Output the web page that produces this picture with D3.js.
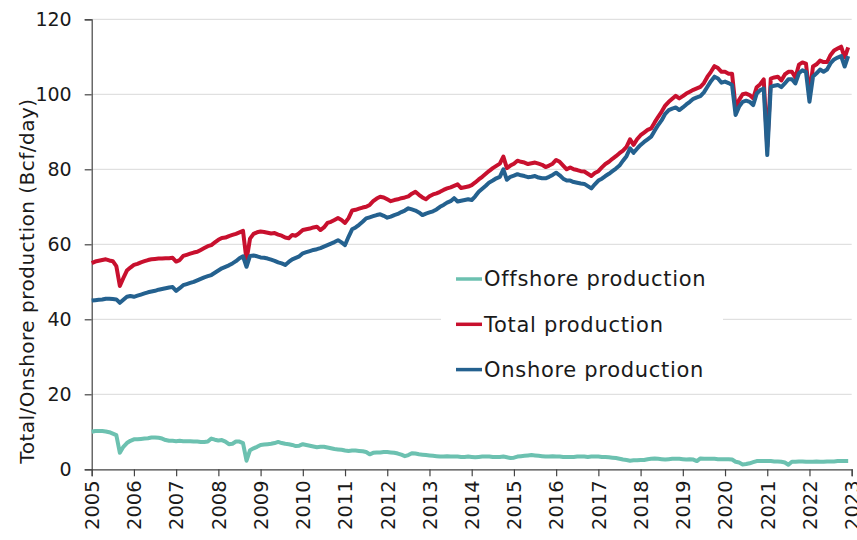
<!DOCTYPE html>
<html>
<head>
<meta charset="utf-8">
<title>Natural gas production</title>
<script src="https://cdnjs.cloudflare.com/ajax/libs/d3/7.8.5/d3.min.js"></script>
<style>
  body { margin: 0; background: #fff; }
  text { font-family: "DejaVu Sans", sans-serif; fill: #1a1a1a; }
</style>
</head>
<body>
<svg id="chart" width="857" height="540"></svg>
<script>
// monthly values, one row per year (Jan..Dec)
var years = [2005,2006,2007,2008,2009,2010,2011,2012,2013,2014,2015,2016,2017,2018,2019,2020,2021,2022];

var total = [
  [55.0,55.4,55.6,55.8,56.0,55.7,55.5,54.2,48.9,51.0,53.0,53.8],
  [54.5,54.8,55.2,55.5,55.8,56.0,56.1,56.2,56.2,56.3,56.3,56.4],
  [55.4,55.8,56.9,57.2,57.5,57.8,58.0,58.5,59.0,59.5,59.8,60.5],
  [61.2,61.7,61.8,62.2,62.5,62.8,63.2,63.6,55.8,61.5,62.8,63.2],
  [63.4,63.3,63.1,62.9,63.0,62.6,62.3,61.8,61.6,62.5,62.3,63.0],
  [63.8,64.0,64.2,64.5,64.7,63.8,64.5,65.7,66.0,66.5,67.0,66.5],
  [65.7,67.0,69.0,69.2,69.5,69.8,70.0,70.5,71.5,72.2,72.7,72.5],
  [72.0,71.5,71.8,72.0,72.3,72.5,72.8,73.5,74.0,73.2,72.5,72.0],
  [72.8,73.3,73.6,74.0,74.5,74.9,75.2,75.6,76.0,75.0,75.2,75.4],
  [75.8,76.5,77.3,78.0,78.8,79.6,80.3,80.9,81.5,83.4,80.3,81.0],
  [81.5,82.3,82.0,81.8,81.4,81.6,81.8,81.5,81.2,80.6,81.0,81.5],
  [82.5,82.0,81.0,80.0,80.5,80.0,79.8,79.5,79.4,78.8,78.2,79.0],
  [79.5,80.5,81.4,82.0,82.8,83.5,84.3,85.0,86.0,88.0,86.5,88.0],
  [89.1,89.8,90.5,90.9,92.5,94.0,95.4,97.0,98.0,98.8,99.6,98.9],
  [99.5,100.2,100.7,101.2,101.6,102.0,103.0,104.7,106.0,107.5,107.0,106.0],
  [106.0,105.5,105.5,96.5,98.5,100.0,100.2,99.8,98.9,101.9,102.7,104.0],
  [86.0,104.2,104.5,104.7,103.7,105.3,106.0,106.0,104.5,107.9,108.5,108.2],
  [100.0,107.4,108.0,109.0,108.6,108.6,110.5,111.7,112.2,112.7,109.8,112.5]
];

var onshore = [
  [45.0,45.1,45.2,45.3,45.5,45.5,45.4,45.3,44.4,45.2,46.0,46.2],
  [46.0,46.3,46.6,46.9,47.2,47.4,47.6,47.9,48.1,48.3,48.5,48.6],
  [47.6,48.3,49.1,49.4,49.7,50.0,50.4,50.8,51.2,51.5,51.8,52.4],
  [53.0,53.6,54.0,54.4,54.9,55.5,56.3,56.8,54.0,56.9,57.0,56.8],
  [56.5,56.4,56.2,55.9,55.6,55.2,54.9,54.5,55.3,56.0,56.4,56.8],
  [57.6,57.9,58.2,58.5,58.7,59.0,59.4,59.8,60.2,60.6,61.1,60.5],
  [59.8,62.0,64.0,64.5,65.2,66.0,66.9,67.2,67.5,67.8,68.0,67.6],
  [67.1,67.4,67.8,68.1,68.6,69.0,69.6,69.3,69.0,68.5,67.8,68.2],
  [68.5,68.8,69.3,70.0,70.5,71.1,71.5,72.3,71.4,71.6,71.8,72.0],
  [71.8,72.8,74.0,74.8,75.6,76.5,77.0,77.6,78.0,80.0,77.2,78.0],
  [78.3,78.7,78.4,78.2,77.9,78.0,78.2,77.8,77.6,77.6,78.0,78.5],
  [79.1,78.4,77.5,77.0,77.0,76.6,76.4,76.2,76.1,75.5,74.9,76.0],
  [77.0,77.5,78.2,78.8,79.5,80.2,81.0,82.3,83.5,85.6,84.4,85.5],
  [86.5,87.3,88.0,88.7,90.3,91.8,93.1,94.8,95.8,96.2,96.5,95.8],
  [96.5,97.3,98.0,98.8,99.2,99.5,100.5,102.0,103.5,104.7,104.2,103.1],
  [103.4,103.0,102.5,94.5,96.7,98.0,98.3,98.0,97.1,100.2,101.1,101.5],
  [83.8,102.0,102.3,102.5,101.9,102.9,104.0,104.0,102.9,105.6,106.4,106.0],
  [98.0,104.7,105.6,106.6,106.0,106.6,108.3,109.3,109.8,110.2,107.4,110.2]
];

var offshore = [
  [10.0,10.2,10.2,10.2,10.1,9.9,9.5,9.1,4.4,6.0,7.0,7.6],
  [8.0,8.0,8.1,8.2,8.3,8.5,8.5,8.4,8.2,7.8,7.6,7.6],
  [7.5,7.6,7.5,7.5,7.5,7.4,7.4,7.3,7.3,7.4,8.2,7.9],
  [7.7,7.8,7.4,6.7,6.8,7.4,7.4,7.0,2.3,5.1,5.6,6.0],
  [6.5,6.6,6.7,6.8,7.0,7.3,7.0,6.8,6.7,6.5,6.2,6.3],
  [6.7,6.5,6.3,6.1,5.9,6.0,6.0,5.8,5.6,5.4,5.3,5.2],
  [5.0,4.9,5.0,5.0,4.9,4.8,4.6,4.0,4.4,4.5,4.5,4.6],
  [4.6,4.5,4.4,4.2,3.9,3.5,3.8,4.3,4.2,4.0,3.9,3.8],
  [3.7,3.6,3.5,3.4,3.4,3.5,3.4,3.4,3.4,3.3,3.3,3.4],
  [3.3,3.2,3.3,3.4,3.4,3.4,3.3,3.3,3.3,3.4,3.2,3.0],
  [3.1,3.4,3.5,3.6,3.7,3.8,3.7,3.6,3.5,3.4,3.4,3.5],
  [3.4,3.4,3.3,3.3,3.3,3.3,3.4,3.4,3.4,3.3,3.4,3.4],
  [3.4,3.3,3.3,3.2,3.1,3.0,2.8,2.6,2.5,2.3,2.4,2.4],
  [2.5,2.5,2.7,2.8,2.9,2.8,2.7,2.6,2.7,2.8,2.8,2.8],
  [2.7,2.6,2.7,2.6,2.2,2.9,2.8,2.8,2.8,2.8,2.7,2.7],
  [2.7,2.7,2.6,2.0,1.8,1.3,1.4,1.6,1.9,2.2,2.2,2.2],
  [2.2,2.2,2.1,2.1,2.0,1.8,1.2,2.0,2.0,2.1,2.1,2.0],
  [2.0,2.0,2.1,2.0,2.0,2.1,2.1,2.1,2.2,2.2,2.2,2.2]
];

var xTicks = d3.range(2005, 2024);
var yTicks = [0, 20, 40, 60, 80, 100, 120];

var series = [
  { name: "Offshore production", rows: offshore, color: "#6cc1b0" },
  { name: "Total production",    rows: total,    color: "#c8102e" },
  { name: "Onshore production",  rows: onshore,  color: "#24618f" }
];

// turn year rows into {t, v} points, t = decimal year
function toPoints(rows) {
  var pts = [];
  rows.forEach(function(row, i) {
    row.forEach(function(v, m) {
      pts.push({ t: years[i] + m / 12, v: v });
    });
  });
  return pts;
}

var svg = d3.select("#chart");
var margin = { left: 91.7, right: 5.3, top: 19.3, bottom: 70.7 };
var W = 857, H = 540;

var x = d3.scaleLinear().domain([2005, 2023]).range([margin.left, W - margin.right]);
var y = d3.scaleLinear().domain([0, 120]).range([H - margin.bottom, margin.top]);

// grid
svg.append("g")
  .selectAll("line")
  .data(yTicks.filter(function(d) { return d > 0; }))
  .enter().append("line")
  .attr("x1", x(2005)).attr("x2", x(2023))
  .attr("y1", function(d) { return y(d); })
  .attr("y2", function(d) { return y(d); })
  .attr("stroke", "#d9d9d9")
  .attr("stroke-width", 1);

// y axis
var yAxis = svg.append("g")
  .attr("transform", "translate(" + x(2005) + ",0)")
  .call(d3.axisLeft(y).tickValues(yTicks).tickSize(7).tickPadding(13));
yAxis.selectAll("text").style("font-size", "19px");

// x axis
var xAxis = svg.append("g")
  .attr("transform", "translate(0," + y(0) + ")")
  .call(d3.axisBottom(x).tickValues(xTicks).tickFormat(d3.format("d")).tickSize(7));
xAxis.selectAll("text")
  .style("font-size", "19.5px")
  .attr("transform", "rotate(-90)")
  .attr("text-anchor", "end")
  .attr("x", -11)
  .attr("y", 0)
  .attr("dy", "0.35em");

svg.selectAll(".domain, .tick line").attr("stroke", "#444").attr("stroke-width", 1.2);

// axis title
svg.append("text")
  .attr("transform", "translate(27," + 281 + ") rotate(-90)")
  .attr("text-anchor", "middle")
  .attr("dy", "0.35em")
  .style("font-size", "20px")
  .style("letter-spacing", "0.5px")
  .text("Total/Onshore production (Bcf/day)");

// lines
var line = d3.line()
  .x(function(d) { return x(d.t); })
  .y(function(d) { return y(d.v); });

svg.append("g")
  .selectAll("path")
  .data(series)
  .enter().append("path")
  .attr("d", function(d) { return line(toPoints(d.rows)); })
  .attr("fill", "none")
  .attr("stroke", function(d) { return d.color; })
  .attr("stroke-width", 4)
  .attr("stroke-linejoin", "round");

// legend
var lg = svg.append("g");
lg.append("rect")
  .attr("x", 441).attr("y", 258)
  .attr("width", 282).attr("height", 132)
  .attr("fill", "#fff");

var item = lg.selectAll("g.item")
  .data(series)
  .enter().append("g")
  .attr("class", "item")
  .attr("transform", function(d, i) { return "translate(456," + (279 + i * 45.3) + ")"; });

item.append("line")
  .attr("x1", 0).attr("x2", 26)
  .attr("stroke", function(d) { return d.color; })
  .attr("stroke-width", 3.5);

item.append("text")
  .attr("x", 28)
  .attr("dy", "0.35em")
  .style("font-size", "21px")
  .style("letter-spacing", "0.7px")
  .text(function(d) { return d.name; });
</script>
</body>
</html>
